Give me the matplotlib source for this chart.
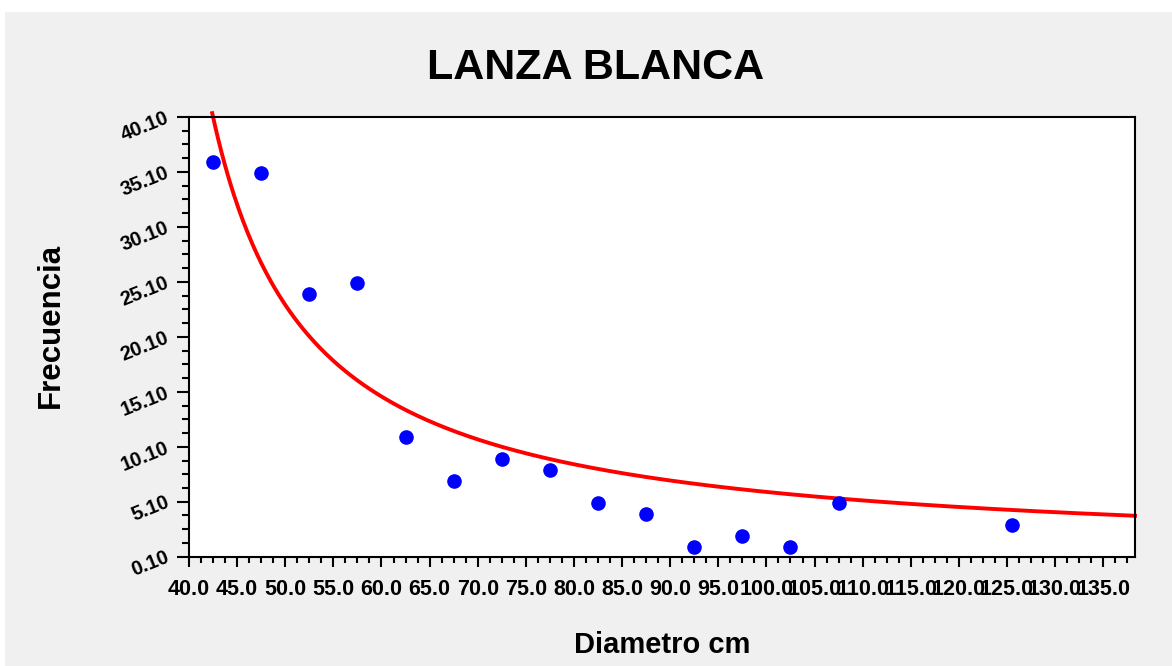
import matplotlib
matplotlib.use('Agg')
import matplotlib.pyplot as plt
import numpy as np
from matplotlib.patches import Rectangle
from matplotlib.ticker import MultipleLocator, FixedLocator, FormatStrFormatter

plt.rcParams['font.family'] = ['Liberation Sans', 'DejaVu Sans']
plt.rcParams['font.weight'] = 'bold'

# Class midpoints (cm) and observed frequencies
diametro = [42.5, 47.5, 52.5, 57.5, 62.5, 67.5, 72.5, 77.5, 82.5, 87.5,
            92.5, 97.5, 102.5, 107.5, 125.5]
frecuencia = [36, 35, 24, 25, 11, 7, 9, 8, 5, 4, 1, 2, 1, 5, 3]

# Fitted curve y = a / (x - c), parameters
curva_a = 405.0
curva_c = 32.4

x_ticks = np.arange(40.0, 135.1, 5.0)
y_ticks = np.arange(0.1, 40.2, 5.0)

fig = plt.figure(figsize=(11.72, 6.66), dpi=100)
fig.patch.set_facecolor('white')
# gray panel behind everything
fig.patches.append(Rectangle((5 / 1172, 0), 1 - 5 / 1172, 1 - 12 / 666,
                             transform=fig.transFigure, facecolor='#f0f0f0',
                             edgecolor='none', zorder=-10))

ax = fig.add_axes([189 / 1172, 1 - 556.7 / 666, (1135 - 189) / 1172, (556.7 - 117) / 666])
ax.set_facecolor('white')

xc = np.linspace(curva_c + curva_a / 40.45, 138.3, 600)
ax.plot(xc, curva_a / (xc - curva_c), color='#ff0000', lw=2.8, clip_on=False, zorder=2)
ax.plot(diametro, frecuencia, 'o', color='#0000ff', ms=10.5, mec='none', zorder=3)

ax.set_xlim(40.0, 138.3)
ax.set_ylim(0.1, 40.1)

ax.xaxis.set_major_locator(FixedLocator(x_ticks))
ax.xaxis.set_minor_locator(MultipleLocator(1.25))
ax.yaxis.set_major_locator(FixedLocator(y_ticks))
ax.yaxis.set_minor_locator(FixedLocator(np.arange(0.1, 40.2, 1.25)))
ax.xaxis.set_major_formatter(FormatStrFormatter('%.1f'))
ax.yaxis.set_major_formatter(FormatStrFormatter('%.2f'))

for s in ax.spines.values():
    s.set_linewidth(1.5)
    s.set_color('black')

ax.tick_params(axis='x', which='major', length=7.5, width=1.5, pad=8.5, labelsize=15.5)
ax.tick_params(axis='x', which='minor', length=4.5, width=1.5)
ax.tick_params(axis='y', which='major', length=8.5, width=1.5, pad=6.5, labelsize=14.5)
ax.tick_params(axis='y', which='minor', length=5, width=1.5)

for lab in ax.get_xticklabels():
    lab.set_fontweight('bold')
for lab in ax.get_yticklabels():
    lab.set_fontweight('bold')
    lab.set_rotation(22)
    lab.set_rotation_mode('anchor')
    lab.set_ha('right')
    lab.set_va('center')

fig.text(595.5 / 1172, 1 - 79.3 / 666, 'LANZA BLANCA', fontsize=31, fontweight='bold',
         ha='center', va='baseline')
fig.text(662 / 1172, 1 - 653 / 666, 'Diametro cm', fontsize=21, fontweight='bold',
         ha='center', va='baseline')
fig.text(51.3 / 1172, 1 - 325.5 / 666, 'Frecuencia', fontsize=22.5, fontweight='bold',
         ha='center', va='center', rotation=90)

fig.savefig('out.png', dpi=100, facecolor=fig.get_facecolor())
